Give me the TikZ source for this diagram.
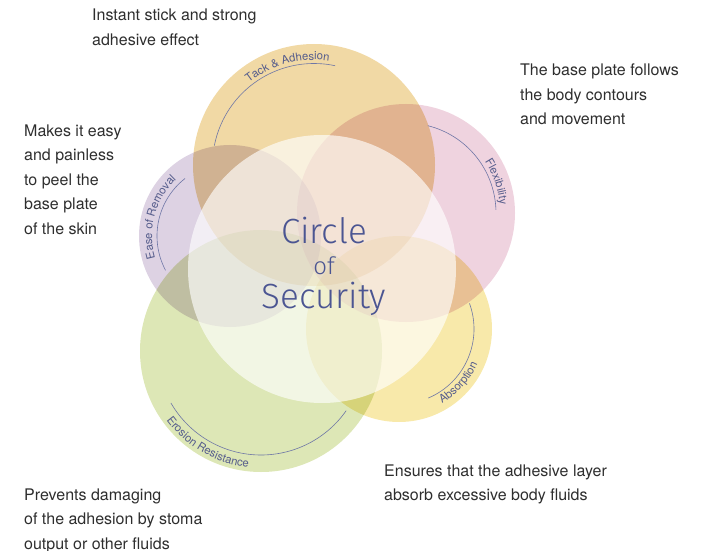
\documentclass[tikz,border=0pt]{standalone}
\usepackage{fontspec}
\setmainfont{TeX Gyre Heros}
\newfontfamily\lightfont{Fira Sans}[UprightFont={* Light}]
\usetikzlibrary{decorations.text}
\definecolor{cTack}{HTML}{F1D9A5}
\definecolor{cFlex}{HTML}{EFD3DF}
\definecolor{cEase}{HTML}{DDD2E3}
\definecolor{cEro}{HTML}{DDE7B6}
\definecolor{cAbs}{HTML}{F8E9AA}
\definecolor{arcline}{HTML}{6E76A6}
\definecolor{arctext}{HTML}{565D8C}
\definecolor{maintext}{HTML}{4B5592}
\definecolor{labelcol}{HTML}{2E2E2E}
\newcommand\ringfont{\fontsize{11.3}{11.3}\selectfont\color{arctext}}
\begin{document}
\begin{tikzpicture}[x=1pt,y=1pt,
  petal/.style={blend mode=multiply},
  ringline/.style={draw=arcline, line width=0.6pt},
  ringtext/.style={decorate, decoration={text along path, text align=center, text={|\ringfont|#1}}},
  labeltext/.style={anchor=base west, inner sep=0pt, align=left, text=labelcol, font=\fontsize{16}{24.5}\selectfont},
  bigtitle/.style={anchor=base, inner sep=0pt, text=maintext, font=\lightfont\fontsize{35}{35}\selectfont},
  smalltitle/.style={anchor=base, inner sep=0pt, text=maintext, font=\lightfont\fontsize{24}{24}\selectfont}]
\useasboundingbox (0,0) rectangle (712,550);
\coordinate (cT) at (314,385);
\coordinate (cF) at (406,337);
\coordinate (cE) at (230,314);
\coordinate (cR) at (261,199);
\coordinate (cA) at (399,221);
\coordinate (cC) at (322,281);
% petals
\fill[cTack, petal] (cT) circle[radius=121];
\fill[cFlex, petal] (cF) circle[radius=109];
\fill[cEase, petal] (cE) circle[radius=91];
\fill[cEro, petal] (cR) circle[radius=121];
\fill[cAbs, petal] (cA) circle[radius=93];
% centre
\fill[white, opacity=0.64] (cC) circle[radius=134];
% rings
\draw[ringline] ([shift={(169:101.5)}]cT) arc[start angle=169, end angle=78, radius=101.5];
\path[ringtext={Tack {\&} Adhesion}] ([shift={(150:105)}]cT) arc[start angle=150, end angle=60, radius=105];
\draw[ringline] ([shift={(76:90)}]cF) arc[start angle=76, end angle=2, radius=90];
\path[ringtext={Flexibility}] ([shift={(49:94)}]cF) arc[start angle=49, end angle=-11, radius=94];
\draw[ringline] ([shift={(128:73)}]cE) arc[start angle=128, end angle=208, radius=73];
\path[ringtext={Ease of Removal}] ([shift={(215:78)}]cE) arc[start angle=215, end angle=115, radius=78];
\draw[ringline] ([shift={(-67:75)}]cA) arc[start angle=-67, end angle=20, radius=75];
\path[ringtext={Absorption}] ([shift={(-90:86)}]cA) arc[start angle=-90, end angle=6, radius=86];
\draw[ringline] ([shift={(210:104)}]cR) arc[start angle=210, end angle=325, radius=104];
\path[ringtext={Erosion Resistance}] ([shift={(180:117)}]cR) arc[start angle=180, end angle=300, radius=117];
% title
\node[bigtitle] (t1) at (324,307) {Circle};
\node[smalltitle] (t2) at (324,276) {of};
\node[bigtitle] (t3) at (324,242) {Security};
% labels (anchor = baseline of the last line)
\node[labeltext] (l1) at (92,504.5) {Instant stick and strong\\adhesive effect};
\node[labeltext] (l2) at (520,425) {The base plate follows\\the body contours\\and movement};
\node[labeltext] (l3) at (24,316) {Makes it easy\\and painless\\to peel the\\base plate\\of the skin};
\node[labeltext] (l4) at (384,49.5) {Ensures that the adhesive layer\\absorb excessive body fluids};
\node[labeltext] (l5) at (24,1) {Prevents damaging\\of the adhesion by stoma\\output or other fluids};
\end{tikzpicture}
\end{document}
